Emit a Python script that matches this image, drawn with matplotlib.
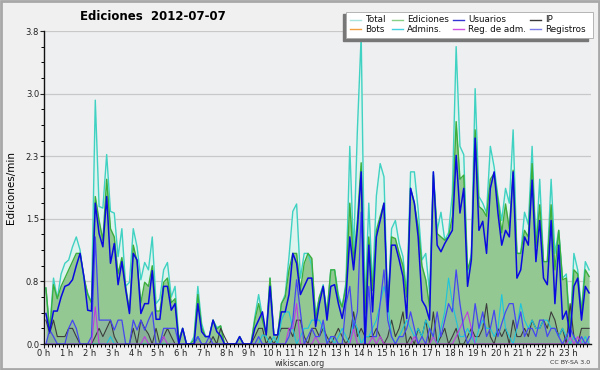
"""Wikiscan-style edit rate chart for 2012-07-07."""

import matplotlib
matplotlib.use("Agg")
import matplotlib.pyplot as plt
import numpy as np
from matplotlib.lines import Line2D
from matplotlib.patches import Rectangle

# 10-minute bins, values in edits/min (6 bins per hour)
total = [
    0.68, 0.17, 0.80, 0.55, 0.85, 0.98,
    1.02, 1.18, 1.30, 1.14, 0.78, 0.62,
    0.50, 2.96, 1.67, 1.65, 2.30, 1.61,
    1.59, 1.06, 1.40, 0.70, 0.75, 1.40,
    1.18, 0.78, 0.99, 0.90, 1.30, 0.49,
    0.55, 0.90, 0.99, 0.57, 0.70, 0.05,
    0.19, 0.00, 0.00, 0.09, 0.70, 0.25,
    0.09, 0.09, 0.29, 0.20, 0.22, 0.00,
    0.00, 0.00, 0.00, 0.09, 0.00, 0.00,
    0.00, 0.33, 0.60, 0.33, 0.11, 0.80,
    0.11, 0.11, 0.49, 0.60, 1.06, 1.61,
    1.70, 0.80, 1.10, 1.10, 0.95, 0.35,
    0.57, 0.72, 0.37, 0.90, 0.90, 0.60,
    0.45, 0.75, 2.40, 1.10, 2.60, 3.75,
    0.45, 1.71, 0.70, 1.80, 2.19, 2.03,
    0.42, 1.40, 1.50, 1.22, 1.06, 0.60,
    2.09, 2.09, 1.63, 1.02, 1.10, 0.62,
    2.09, 1.38, 1.60, 1.26, 1.35, 1.83,
    3.61, 2.40, 2.30, 0.86, 1.10, 3.10,
    1.79, 1.71, 1.59, 2.40, 2.15, 1.79,
    1.50, 1.89, 1.71, 2.60, 1.10, 1.10,
    1.60, 1.45, 2.40, 1.18, 2.00, 1.00,
    1.00, 2.00, 1.10, 1.38, 0.80, 0.85,
    0.15, 1.10, 0.90, 0.41, 1.00, 0.90,
]
ediciones = [
    0.68, 0.15, 0.72, 0.55, 0.70, 0.80,
    0.90, 1.00, 1.10, 1.10, 0.82, 0.60,
    0.50, 1.79, 1.50, 1.26, 2.00, 1.40,
    1.30, 0.85, 1.05, 0.70, 0.40, 1.20,
    1.00, 0.50, 0.75, 0.70, 0.95, 0.40,
    0.40, 0.75, 0.80, 0.50, 0.55, 0.05,
    0.19, 0.00, 0.00, 0.05, 0.60, 0.20,
    0.09, 0.09, 0.29, 0.18, 0.22, 0.00,
    0.00, 0.00, 0.00, 0.09, 0.00, 0.00,
    0.00, 0.29, 0.49, 0.29, 0.11, 0.80,
    0.11, 0.11, 0.49, 0.57, 0.90, 1.10,
    1.10, 0.65, 0.98, 1.10, 1.04, 0.30,
    0.57, 0.70, 0.37, 0.90, 0.90, 0.55,
    0.45, 0.70, 1.71, 1.00, 1.50, 2.20,
    0.37, 1.30, 0.65, 1.38, 1.55, 1.71,
    0.42, 1.30, 1.28, 1.10, 0.95, 0.57,
    1.89, 1.71, 1.42, 0.95, 0.78, 0.45,
    2.05, 1.34, 1.30, 1.26, 1.30, 1.55,
    2.70, 2.00, 2.05, 0.90, 1.05, 2.60,
    1.67, 1.63, 1.55, 2.00, 2.07, 1.75,
    1.35, 1.70, 1.40, 2.11, 1.10, 1.10,
    1.38, 1.30, 2.19, 1.18, 1.69, 1.00,
    1.00, 1.69, 0.90, 1.38, 0.78, 0.80,
    0.13, 0.90, 0.85, 0.37, 0.90, 0.82,
]
usuarios = [
    0.37, 0.15, 0.40, 0.40, 0.57, 0.70,
    0.72, 0.78, 0.95, 1.10, 0.82, 0.41,
    0.40, 1.71, 1.34, 1.18, 1.79, 0.98,
    1.22, 0.72, 1.00, 0.66, 0.37, 1.10,
    1.02, 0.37, 0.49, 0.49, 0.89, 0.30,
    0.30, 0.70, 0.70, 0.41, 0.49, 0.00,
    0.19, 0.00, 0.00, 0.00, 0.49, 0.15,
    0.09, 0.09, 0.29, 0.15, 0.10, 0.00,
    0.00, 0.00, 0.00, 0.09, 0.00, 0.00,
    0.00, 0.19, 0.29, 0.39, 0.11, 0.70,
    0.11, 0.11, 0.39, 0.39, 0.60, 1.10,
    0.98, 0.60, 0.70, 0.80, 0.80, 0.21,
    0.49, 0.70, 0.29, 0.70, 0.72, 0.49,
    0.31, 0.57, 1.30, 0.90, 1.40, 2.09,
    0.00, 1.20, 0.39, 1.30, 1.50, 1.71,
    0.39, 1.20, 1.20, 1.02, 0.82, 0.31,
    1.89, 1.71, 1.30, 0.53, 0.45, 0.29,
    2.09, 1.20, 1.12, 1.22, 1.30, 1.38,
    2.29, 1.59, 1.89, 0.70, 1.02, 2.50,
    1.38, 1.49, 1.10, 1.89, 2.09, 1.59,
    1.20, 1.38, 1.30, 2.09, 0.80, 0.90,
    1.30, 1.20, 1.99, 1.00, 1.50, 0.80,
    0.72, 1.50, 0.49, 1.20, 0.30, 0.40,
    0.09, 0.70, 0.80, 0.29, 0.70, 0.62,
]
ip = [
    0.29, 0.13, 0.29, 0.09, 0.09, 0.09,
    0.19, 0.19, 0.09, 0.00, 0.00, 0.00,
    0.00, 0.09, 0.19, 0.09, 0.19, 0.29,
    0.09, 0.00, 0.00, 0.00, 0.00, 0.19,
    0.00, 0.29, 0.19, 0.12, 0.00, 0.19,
    0.00, 0.09, 0.19, 0.09, 0.00, 0.00,
    0.00, 0.00, 0.00, 0.00, 0.09, 0.00,
    0.00, 0.00, 0.09, 0.00, 0.19, 0.09,
    0.00, 0.00, 0.00, 0.00, 0.00, 0.00,
    0.00, 0.09, 0.19, 0.19, 0.00, 0.09,
    0.00, 0.09, 0.19, 0.19, 0.19, 0.09,
    0.29, 0.29, 0.09, 0.00, 0.19, 0.19,
    0.09, 0.19, 0.09, 0.00, 0.09, 0.19,
    0.09, 0.00, 0.09, 0.39, 0.09, 0.19,
    0.09, 0.09, 0.09, 0.19, 0.09, 0.00,
    0.09, 0.29, 0.09, 0.19, 0.39, 0.00,
    0.09, 0.00, 0.19, 0.09, 0.29, 0.00,
    0.39, 0.00, 0.09, 0.19, 0.00, 0.09,
    0.19, 0.00, 0.00, 0.09, 0.19, 0.09,
    0.09, 0.19, 0.49, 0.09, 0.00, 0.19,
    0.09, 0.19, 0.00, 0.29, 0.09, 0.09,
    0.19, 0.09, 0.29, 0.19, 0.19, 0.29,
    0.19, 0.39, 0.29, 0.09, 0.19, 0.00,
    0.49, 0.09, 0.00, 0.19, 0.19, 0.19,
]
registros = [
    0.00, 0.17, 0.09, 0.00, 0.00, 0.00,
    0.19, 0.29, 0.19, 0.00, 0.00, 0.00,
    0.09, 1.30, 0.29, 0.29, 0.29, 0.29,
    0.17, 0.29, 0.29, 0.00, 0.00, 0.29,
    0.17, 0.29, 0.17, 0.29, 0.39, 0.00,
    0.00, 0.19, 0.19, 0.19, 0.19, 0.00,
    0.00, 0.00, 0.00, 0.00, 0.09, 0.00,
    0.00, 0.09, 0.00, 0.00, 0.00, 0.00,
    0.00, 0.00, 0.00, 0.00, 0.00, 0.00,
    0.00, 0.00, 0.09, 0.00, 0.00, 0.00,
    0.00, 0.00, 0.00, 0.00, 0.09, 0.29,
    0.78, 0.39, 0.00, 0.09, 0.19, 0.09,
    0.09, 0.29, 0.00, 0.09, 0.09, 0.00,
    0.00, 0.49, 0.70, 0.19, 0.39, 1.60,
    0.00, 0.70, 0.09, 0.09, 0.49, 0.90,
    0.29, 0.09, 0.00, 0.09, 0.09, 0.19,
    0.39, 0.19, 0.00, 0.09, 0.00, 0.19,
    0.09, 0.39, 0.09, 0.29, 0.49, 0.39,
    0.90, 0.49, 0.19, 0.00, 0.09, 0.49,
    0.19, 0.39, 0.09, 0.19, 0.41, 0.09,
    0.25, 0.39, 0.49, 0.49, 0.19, 0.39,
    0.09, 0.19, 0.19, 0.09, 0.29, 0.29,
    0.09, 0.19, 0.19, 0.09, 0.00, 0.09,
    0.19, 0.09, 0.00, 0.09, 0.00, 0.09,
]
admins = [0.0] * 144
for idx, val in {
    17: 0.09, 40: 0.09, 57: 0.11, 58: 0.09,
    60: 0.09, 62: 0.29, 63: 0.39, 64: 0.39, 65: 0.19, 67: 0.09, 68: 0.19,
    69: 0.19, 70: 0.29, 71: 0.29, 72: 0.29, 73: 0.19, 75: 0.09, 77: 0.09,
    78: 0.19, 79: 0.09, 81: 0.29, 82: 0.19, 84: 0.09, 85: 0.09, 86: 0.19,
    87: 0.29, 88: 0.49, 89: 0.70, 90: 0.49, 91: 0.09, 93: 0.09, 94: 0.19,
    95: 0.29, 96: 0.19, 97: 0.09, 98: 0.19, 99: 0.09, 100: 0.29, 101: 0.19,
    102: 0.09, 104: 0.19, 105: 0.39, 106: 0.80, 107: 0.49, 108: 0.29,
    109: 0.09, 110: 0.09, 111: 0.19, 112: 0.09, 114: 0.19, 115: 0.29,
    116: 0.19, 117: 0.19, 118: 0.09, 119: 0.19, 120: 0.60, 121: 0.19,
    122: 0.09, 124: 0.19, 125: 0.49, 126: 0.29, 127: 0.19, 128: 0.29,
    129: 0.19, 130: 0.19, 131: 0.29, 132: 0.29, 133: 0.19, 134: 0.19,
    135: 0.09, 136: 0.19, 137: 0.09, 139: 0.09, 142: 0.09,
}.items():
    admins[idx] = val
reg_adm = [0.0] * 144
for idx, val in {
    13: 0.45, 26: 0.09, 31: 0.09, 64: 0.19, 65: 0.19, 66: 0.49,
    71: 0.09, 81: 0.19, 86: 0.09, 88: 0.09, 97: 0.09, 102: 0.09,
    108: 0.09, 109: 0.19, 110: 0.29, 111: 0.39, 112: 0.19, 138: 0.09,
    140: 0.09,
}.items():
    reg_adm[idx] = val
bots = [0.0] * 144

hour_labels = [f"{h} h" for h in range(24)]
ytick_vals = [0, 0.76, 1.52, 2.28, 3.04, 3.8]
ytick_labels = ["0.0", "0.8", "1.5", "2.3", "3.0", "3.8"]

legend_names = ["Total", "Ediciones", "Usuarios", "IP",
                "Bots", "Admins.", "Reg. de adm.", "Registros"]
legend_colors = ["#a8e4e0", "#88d088", "#3434d4", "#383838",
                 "#f0a040", "#40d0e0", "#d050e0", "#7c7ce8"]

W, H = 600, 370
x = (np.arange(144) + 0.5) / 6.0

fig = plt.figure(figsize=(6.0, 3.7), dpi=100, facecolor="#f0f0f0")
ax = fig.add_axes([44 / W, 26 / H, 547 / W, 313 / H])
ax.set_facecolor("#eeeff1")

ax.fill_between(x, total, color="#dcf3ee", lw=0)
ax.fill_between(x, ediciones, color="#93c893", lw=0)
ax.fill_between(x, registros, color="#6a6ae0", alpha=0.13, lw=0)
ax.fill_between(x, ip, color="#404060", alpha=0.08, lw=0)
ax.plot(x, total, color="#3fd2c2", lw=1.0)
ax.plot(x, ediciones, color="#3cae3c", lw=1.0)
ax.plot(x, bots, color="#f0a040", lw=0.8)
ax.plot(x, ip, color="#3c3c3c", lw=0.8)
ax.plot(x, admins, color="#1cc4dc", lw=0.8)
ax.plot(x, reg_adm, color="#c03ce0", lw=0.8)
ax.plot(x, registros, color="#4646f0", lw=0.9)
ax.plot(x, usuarios, color="#0a0ae0", lw=1.1)

ax.set_xlim(0, 24)
ax.set_ylim(0, 3.8)
ax.set_xticks(np.arange(24))
ax.set_xticklabels(hour_labels)
ax.set_xticks(np.arange(0, 24, 1 / 6), minor=True)
ax.set_yticks(ytick_vals)
ax.set_yticklabels(ytick_labels)
ax.set_yticks(np.arange(0, 3.81, 0.19), minor=True)
ax.tick_params(axis="both", which="major", length=3, width=0.8,
               labelsize=6, pad=0.5, colors="#222222")
ax.tick_params(axis="both", which="minor", length=2.5, width=0.7)
ax.grid(axis="y", color="#c8c8c8", lw=0.9)
ax.set_axisbelow(True)
for side in ("top", "right"):
    ax.spines[side].set_visible(False)
for side in ("left", "bottom"):
    ax.spines[side].set_color("#111111")
    ax.spines[side].set_linewidth(1.0)
ax.set_ylabel("Ediciones/min", fontsize=7.5, labelpad=7)

fig.text(153 / W, 1 - 16 / H, "Ediciones  2012-07-07", ha="center",
         va="center", fontsize=8.5, fontweight="bold")
fig.text(300 / W, 1 - 363.5 / H, "wikiscan.org", ha="center",
         va="center", fontsize=5.8, color="#333333")
fig.text(590 / W, 1 - 363 / H, "CC BY-SA 3.0", ha="right",
         va="center", fontsize=4.5, color="#333333")

# legend box drawn by hand, with a drop shadow towards lower left
fig.patches.append(Rectangle((343 / W, 1 - 41 / H), 245 / W, 27 / H,
                             transform=fig.transFigure, color="#777777",
                             zorder=5))
fig.patches.append(Rectangle((346 / W, 1 - 38 / H), 247 / W, 26 / H,
                             transform=fig.transFigure, facecolor="white",
                             edgecolor="#aaaaaa", lw=0.6, zorder=6))
col_x = [350, 392, 453, 530]
row_y = [19.5, 29]
for k, (name, color) in enumerate(zip(legend_names, legend_colors)):
    cx = col_x[k % 4]
    cy = 1 - row_y[k // 4] / H
    fig.add_artist(Line2D([cx / W, (cx + 11) / W], [cy, cy], color=color,
                          lw=1, transform=fig.transFigure, zorder=7))
    fig.text((cx + 15) / W, cy, name, ha="left", va="center", fontsize=6.3,
             color="#111111", zorder=7)

fig.patches.append(Rectangle((0.002, 0.003), 0.996, 0.994,
                             transform=fig.transFigure, fill=False,
                             edgecolor="#a8a8a8", lw=2))

fig.savefig("out.png", dpi=100, facecolor=fig.get_facecolor())
